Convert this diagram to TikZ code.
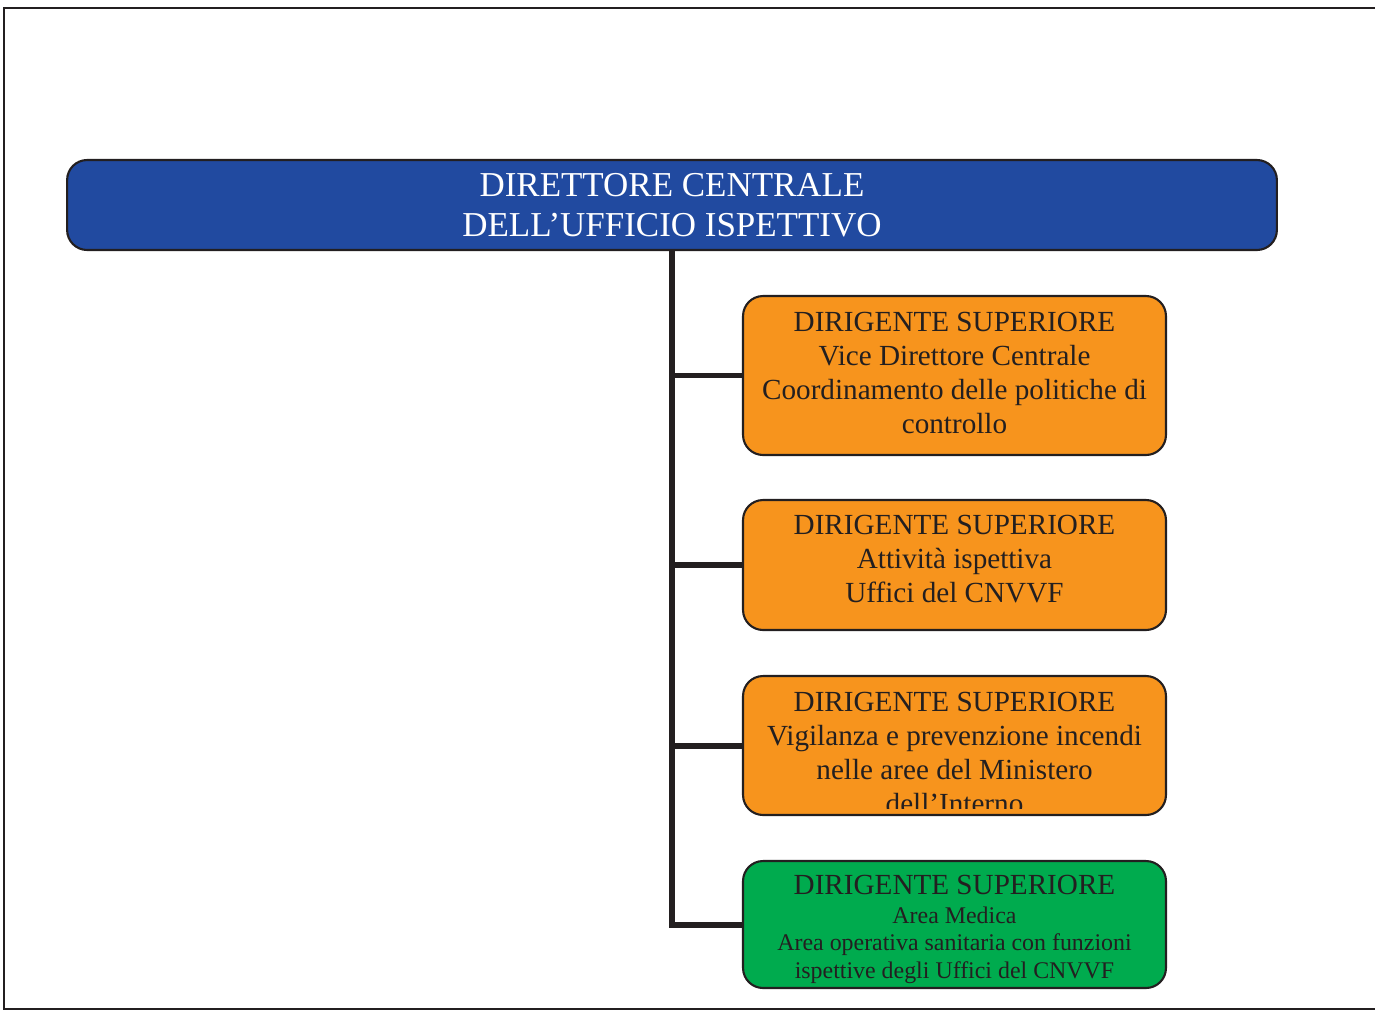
\documentclass[tikz,border=0pt]{standalone}
\usepackage{fontspec}
\setmainfont{Liberation Serif}
\usepackage{tikz}
\definecolor{capoblu}{RGB}{33,74,160}
\definecolor{arancio}{RGB}{247,148,29}
\definecolor{verde}{RGB}{0,171,78}
\definecolor{inchiostro}{RGB}{35,31,32}
\tikzstyle{box}=[draw=inchiostro,line width=1.2pt,rounded corners=0.4cm,inner sep=0pt]
\tikzstyle{director}=[box,fill=capoblu,minimum width=24.2cm,minimum height=1.8cm,text=white,align=center,font=\fontsize{19.9}{22.7}\selectfont]
\tikzstyle{office}=[box,fill=arancio,minimum width=8.46cm]
\tikzstyle{medical}=[office,fill=verde]
\tikzstyle{boxtext}=[anchor=north,inner sep=0pt,align=center,text=inchiostro,font=\fontsize{16.6}{19.3}\selectfont]
\tikzstyle{smalltext}=[boxtext,font=\fontsize{13.6}{15.6}\selectfont]
\tikzstyle{branch}=[draw=inchiostro,line width=3.4pt]

\begin{document}
\begin{tikzpicture}[x=0.02cm,y=-0.02cm]
    \useasboundingbox (0,0) rectangle (1375,1012);
    \draw[inchiostro,line width=1.1pt] (1375,8) -- (4,8) -- (4,1009) -- (1375,1009);
    \node[director] (dir) at (672,205) {DIRETTORE CENTRALE\\DELL’UFFICIO ISPETTIVO};
    \foreach \name/\ypos/\h in {uff1/375.5/3.18cm, uff2/565/2.6cm, uff3/745.5/2.78cm}
        \node[office,minimum height=\h] (\name) at (954.5,\ypos) {};
    \node[medical,minimum height=2.54cm] (uff4) at (954.5,924.5) {};
    \foreach \name in {uff1,uff2,uff3,uff4}
        \draw[branch] (dir.south) |- (\name.west);
    \node[boxtext] (txt1) at ([yshift=-9.6pt]uff1.north)
        {DIRIGENTE SUPERIORE\\Vice Direttore Centrale\\Coordinamento delle politiche di\\controllo};
    \node[boxtext] (txt2) at ([yshift=-9.3pt]uff2.north)
        {DIRIGENTE SUPERIORE\\Attività ispettiva\\Uffici del CNVVF};
    \begin{scope}
        \clip (uff3.north west) rectangle ([yshift=0.16cm]uff3.south east);
        \node[boxtext] (txt3) at ([yshift=-9.6pt]uff3.north)
            {DIRIGENTE SUPERIORE\\Vigilanza e prevenzione incendi\\nelle aree del Ministero\\dell’Interno};
    \end{scope}
    \node[smalltext] (txt4) at ([yshift=-8.6pt]uff4.north)
        {{\fontsize{16.6}{19.3}\selectfont DIRIGENTE SUPERIORE}\\[0.6pt]Area Medica\\Area operativa sanitaria con funzioni\\ispettive degli Uffici del CNVVF};
\end{tikzpicture}
\end{document}
